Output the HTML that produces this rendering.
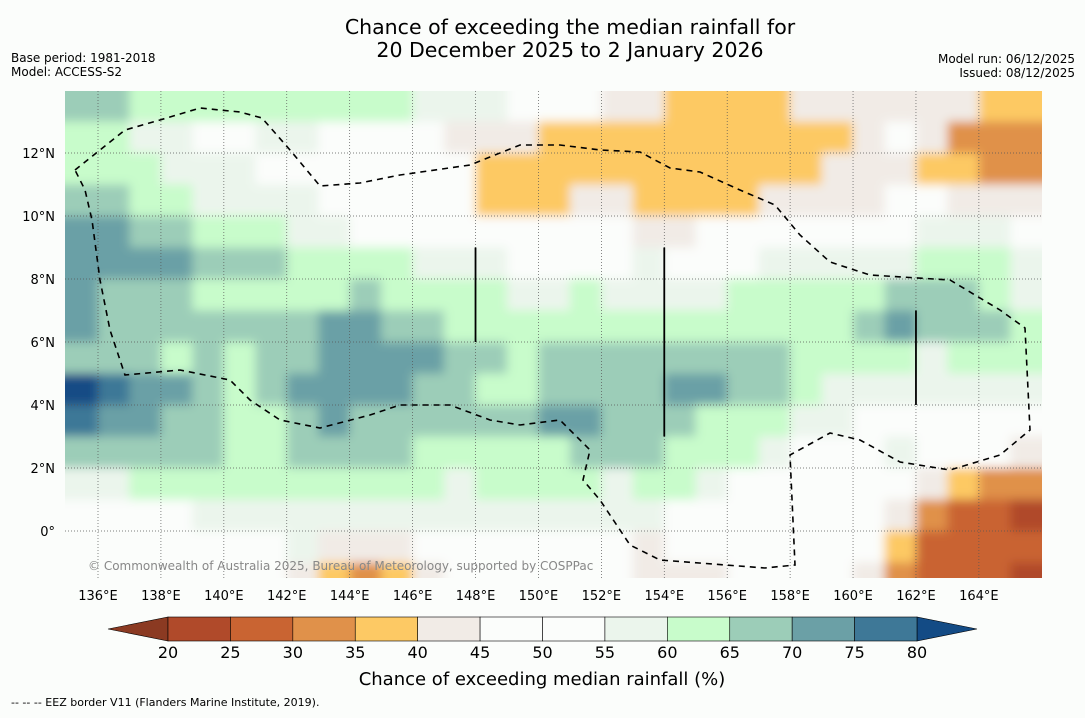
<!DOCTYPE html>
<html><head><meta charset="utf-8"><style>
body{margin:0;background:#fbfdfb;font-family:"Liberation Sans","DejaVu Sans",sans-serif;}
svg text{font-family:"DejaVu Sans","Liberation Sans",sans-serif;}
</style></head><body>
<svg id="chart" width="1085" height="713" viewBox="0 0 1085 713" xmlns="http://www.w3.org/2000/svg">
<defs>
<clipPath id="mapclip"><rect x="65" y="91" width="977" height="487"/></clipPath>
<filter id="soft" x="-5%" y="-5%" width="110%" height="110%"><feGaussianBlur stdDeviation="5"/></filter>
</defs>
<rect width="1085" height="713" fill="#fbfdfb"/>
<text x="570" y="34" font-size="20.5" text-anchor="middle" fill="#000">Chance of exceeding the median rainfall for</text>
<text x="570" y="57" font-size="20.5" text-anchor="middle" fill="#000">20 December 2025 to 2 January 2026</text>
<text x="11" y="62" font-size="12">Base period: 1981-2018</text>
<text x="11" y="76" font-size="12">Model: ACCESS-S2</text>
<text x="1075" y="63" font-size="12" text-anchor="end">Model run: 06/12/2025</text>
<text x="1075" y="77" font-size="12" text-anchor="end">Issued: 08/12/2025</text>
<g clip-path="url(#mapclip)"><g id="cells" filter="url(#soft)"></g></g>
<g id="grid"></g>
<polyline fill="none" stroke="#000" stroke-width="1.6" stroke-dasharray="6,5" points="75,170 100,150 125,130 160,120 200,108 240,112 262,118 290,150 320,186 360,183 400,175 470,165 520,145 560,145 600,150 640,152 670,168 700,172 740,190 775,205 800,235 830,262 870,275 950,280 1000,310 1025,328 1030,430 1000,455 950,470 900,462 860,440 830,433 790,455 795,565 765,568 660,560 630,545 600,500 583,480 590,450 560,420 520,425 490,420 450,405 400,405 370,415 320,428 280,420 250,400 230,380 180,370 125,375 110,330 100,280 92,220 85,190 75,170"/>
<g id="vlines"></g>
<text x="88" y="570" font-size="12" fill="#888">© Commonwealth of Australia 2025, Bureau of Meteorology, supported by COSPPac</text>
<g id="ticks"></g>
<g id="cbar"></g>
<text x="542" y="685" font-size="18" text-anchor="middle">Chance of exceeding median rainfall (%)</text>
<text x="11" y="706" font-size="11">--  --  -- EEZ border V11 (Flanders Marine Institute, 2019).</text>
</svg>
<script>
const lons=[135,136,137,138,139,140,141,142,143,144,145,146,147,148,149,150,151,152,153,154,155,156,157,158,159,160,161,162,163,164,165];
const lats=[14,13,12,11,10,9,8,7,6,5,4,3,2,1,0,-1];
const rowA=[67,67,62,62,62,62,62,62,62,62,62,57,57,57,52,52,52,42,42,37,37,37,37,42,42,42,42,42,42,37,37];
const rowB=[62,62,57,57,52,52,57,57,52,52,52,47,42,42,42,37,37,37,37,37,37,37,37,37,37,42,52,42,32,32,32];
const rowC=[62,62,62,57,57,57,52,52,52,52,52,52,52,37,37,37,37,37,37,37,37,37,37,37,42,42,42,37,37,32,32];
const rowD=[67,67,62,62,57,57,57,57,52,52,52,52,52,37,37,37,42,42,37,37,37,37,42,42,42,42,52,52,42,42,42];
const rowE=[72,72,67,67,62,62,62,57,57,52,52,52,52,52,52,52,52,47,42,42,52,52,52,52,52,52,52,57,57,57,52];
const rowF=[72,72,72,72,67,67,67,62,62,62,62,57,57,57,52,52,52,52,57,52,52,52,57,57,57,57,57,62,62,62,57];
const rowG=[72,67,67,67,62,62,62,62,62,67,62,62,62,62,57,57,62,57,57,57,57,62,62,62,62,62,67,67,67,62,57];
const rowH=[72,67,67,67,67,67,67,67,72,72,67,67,62,62,62,62,62,62,62,62,62,62,62,62,62,67,72,67,67,67,62];
const rowI=[67,67,67,62,67,62,67,67,72,72,72,72,67,67,62,67,67,67,67,67,67,67,67,62,62,62,62,57,62,62,62];
const rowJ=[82,77,72,72,67,62,67,72,72,72,72,67,67,62,62,67,67,67,67,72,72,67,67,62,57,57,57,57,57,57,57];
const rowK=[77,72,72,67,67,62,62,67,72,67,67,67,67,67,67,72,72,67,67,67,62,62,62,57,57,52,52,52,52,52,52];
const rowL=[67,67,67,67,67,62,62,67,67,67,67,62,62,62,62,62,67,67,67,62,62,62,57,52,52,52,57,52,52,52,42];
const rowM=[57,57,62,62,62,62,62,62,62,62,62,62,57,62,62,62,62,57,62,62,57,52,52,52,52,52,52,42,37,32,32];
const rowN=[52,52,52,52,57,57,57,57,57,57,57,57,57,57,57,57,57,57,57,52,52,52,52,52,52,52,42,32,27,27,22];
const rowO=[52,52,52,52,52,52,52,57,42,42,42,52,52,52,52,52,52,52,42,52,52,52,52,52,52,52,37,27,27,27,27];
const rowP=[52,52,52,52,52,52,52,42,37,32,37,42,52,52,52,52,52,52,42,42,42,52,52,52,52,42,32,27,27,27,22];
const rows=[rowA,rowB,rowC,rowD,rowE,rowF,rowG,rowH,rowI,rowJ,rowK,rowL,rowM,rowN,rowO,rowP];
const levels=[20,25,30,35,40,45,50,55,60,65,70,75,80];
const levelLabels=["20","25","30","35","40","45","50","55","60","65","70","75","80"];
const lonTicks=[136,138,140,142,144,146,148,150,152,154,156,158,160,162,164];
const latTicks=[0,2,4,6,8,10,12];
const colors=["#8b3a22","#b04a2a","#c96432","#e0914a","#fdc964","#f1ebe6","#fbfdfb","#fbfdfb","#ebf5ec","#c8fccb","#9ccdb8","#6ba0a6","#3e7897","#134b85"];
const NS="http://www.w3.org/2000/svg";
const X0=65,X1=1042,Y0=91,Y1=578;
const xs=lon=>98+(lon-136)*31.46;
const ys=lat=>531-lat*31.5;
function col(v){let i=0;while(i<levels.length&&v>=levels[i])i++;return colors[i];}
function mk(t,a,p){const e=document.createElementNS(NS,t);for(const k in a)e.setAttribute(k,a[k]);p.appendChild(e);return e;}
const cells=document.getElementById('cells');
rows.forEach((r,ri)=>{r.forEach((v,ci)=>{
 let x=xs(lons[ci]),x2=xs(lons[ci]+1),y=ys(lats[ri]),y2=ys(lats[ri]-1);
 if(ci===0)x-=30; if(ci===r.length-1)x2+=30; if(ri===0)y-=30; if(ri===rows.length-1)y2+=30;
 const e=mk('rect',{x:x,y:y,width:x2-x+0.5,height:y2-y+0.5,fill:col(v)},cells);
 
 
});});
const grid=document.getElementById('grid');
lonTicks.forEach(l=>{const e=mk('line',{x1:xs(l),x2:xs(l),y1:Y0,y2:Y1,stroke:'#555','stroke-width':0.7,'stroke-dasharray':'1,2'},grid);
 });
latTicks.forEach(l=>{const e=mk('line',{x1:X0,x2:X1,y1:ys(l),y2:ys(l),stroke:'#555','stroke-width':0.7,'stroke-dasharray':'1,2'},grid);
 });
const vl=document.getElementById('vlines');
[[148,9,6],[154,9,3],[162,7,4]].forEach(s=>{const e=mk('line',{x1:xs(s[0]),x2:xs(s[0]),y1:ys(s[1]),y2:ys(s[2]),stroke:'#000','stroke-width':1.8},vl);
 });
const ticks=document.getElementById('ticks');
lonTicks.forEach(l=>{const e=mk('text',{x:xs(l),y:600,'font-size':13,'text-anchor':'middle'},ticks);e.textContent=l+'°E';
 });
latTicks.forEach(l=>{const e=mk('text',{x:55,y:ys(l)+5,'font-size':13,'text-anchor':'end'},ticks);e.textContent=l===0?'0°':l+'°N';
 });
const cb=document.getElementById('cbar');
const cx=v=>168+(v-20)*(749/60);
let t=mk('polygon',{points:`108,629 ${cx(20)},617 ${cx(20)},641`,fill:colors[0],stroke:'#000','stroke-width':0.6},cb);

t=mk('polygon',{points:`977,629 ${cx(80)},617 ${cx(80)},641`,fill:colors[13],stroke:'#000','stroke-width':0.6},cb);

for(let i=0;i<levels.length-1;i++){const e=mk('rect',{x:cx(levels[i]),y:617,width:cx(levels[i+1])-cx(levels[i]),height:24,fill:colors[i+1],stroke:'#000','stroke-width':0.6},cb);
 }
levels.forEach((v,i)=>{const e=mk('text',{x:cx(v),y:658,'font-size':16,'text-anchor':'middle'},cb);e.textContent=levelLabels[i];
 });
</script>
</body></html>
